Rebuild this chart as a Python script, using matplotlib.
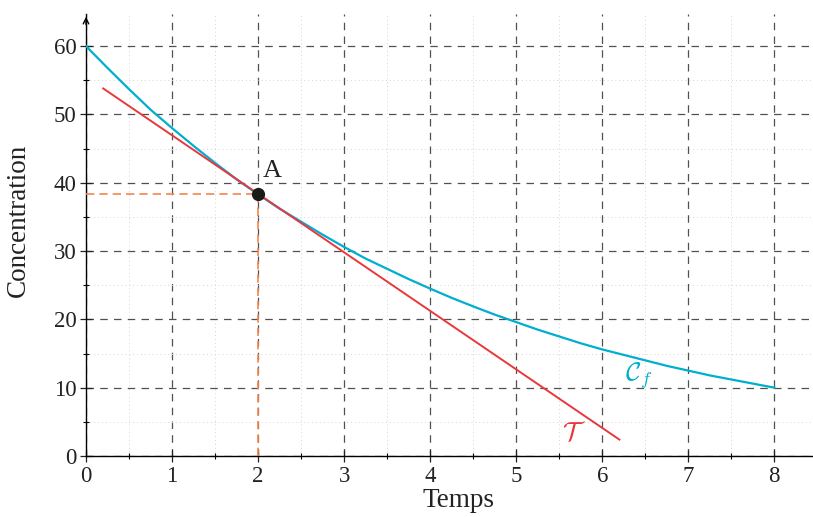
import matplotlib
matplotlib.use("Agg")
import matplotlib.pyplot as plt
from matplotlib.ticker import MultipleLocator

plt.rcParams['font.family'] = ['Liberation Serif', 'DejaVu Serif']
plt.rcParams['mathtext.fontset'] = 'cm'

# Data
t_vals = [0, 0.25, 0.5, 0.75, 1, 1.25, 1.5, 1.75, 2, 2.25, 2.5, 2.75, 3, 3.25, 3.5, 3.75,
          4, 4.25, 4.5, 4.75, 5, 5.25, 5.5, 5.75, 6, 6.25, 6.5, 6.75, 7, 7.25, 7.5, 7.75, 8]
c_vals = [60, 56.8, 53.7, 50.7, 48.0, 45.4, 42.9, 40.5, 38.3, 36.2, 34.3, 32.4, 30.6, 28.9,
          27.4, 25.9, 24.5, 23.15, 21.9, 20.7, 19.6, 18.5, 17.5, 16.5, 15.6, 14.8, 14.0, 13.2,
          12.5, 11.8, 11.2, 10.6, 10.0]
tan_t = [0.2, 6.2]
tan_c = [53.8, 2.4]
point_A = (2, 38.3)
x_ticks = [0, 1, 2, 3, 4, 5, 6, 7, 8]
y_ticks = [0, 10, 20, 30, 40, 50, 60]

cyan = '#00aecf'
red = '#e8383d'
orange = '#f4874b'
txt = '#222222'

fig = plt.figure(figsize=(8.13, 5.17), dpi=100)
ax = fig.add_axes([86/813, 61/517, 1 - 86/813, (456-14)/517])
ax.set_xlim(0, 8.45)
ax.set_ylim(0, 64.7)

ax.xaxis.set_minor_locator(MultipleLocator(0.5))
ax.yaxis.set_minor_locator(MultipleLocator(5))
ax.set_xticks(x_ticks)
ax.set_yticks(y_ticks)

ax.grid(which='major', color='#505050', linestyle=(0, (6, 5)), linewidth=0.9)
ax.grid(which='minor', color='#d4d4d4', linestyle=(0, (1, 3)), linewidth=0.7)
ax.set_axisbelow(True)

for s in ['top', 'right']:
    ax.spines[s].set_visible(False)
ax.spines['left'].set_linewidth(1.0)
ax.spines['bottom'].set_linewidth(1.0)

ax.tick_params(which='major', direction='inout', length=8, width=0.9, labelsize=16.5,
               colors=txt, pad=3)
ax.tick_params(which='minor', direction='inout', length=5, width=0.8)

# y-axis arrow
ax.annotate('', xy=(0, 1.0), xycoords='axes fraction', xytext=(0, 0.97),
            arrowprops=dict(arrowstyle='->', lw=1.0, color='black'))

# reference dashed lines
ax.plot([0, point_A[0]], [point_A[1], point_A[1]], color=orange, linestyle=(0, (5, 3)), lw=1.2, zorder=3)
ax.plot([point_A[0], point_A[0]], [0, point_A[1]], color=orange, linestyle=(0, (5, 3)), lw=1.2, zorder=3)

ax.plot(t_vals, c_vals, color=cyan, lw=1.6, zorder=4)
ax.plot(tan_t, tan_c, color=red, lw=1.4, zorder=5)
ax.plot([point_A[0]], [point_A[1]], 'o', color='#1a1a1a', markersize=8.5, zorder=6)

ax.text(2.06, 40.8, 'A', fontsize=19, color=txt)
ax.text(6.27, 11.1, r'$\mathcal{C}_f$', fontsize=19, color=cyan)
ax.text(5.53, 2.4, r'$\mathcal{T}$', fontsize=19, color=red)

ax.set_xlabel('Temps', fontsize=19.5, color=txt)
ax.set_ylabel('Concentration', fontsize=19.5, color=txt)
ax.xaxis.set_label_coords(0.512, -0.072)
ax.yaxis.set_label_coords(-0.076, 0.532)

fig.savefig('out.png', dpi=100)
